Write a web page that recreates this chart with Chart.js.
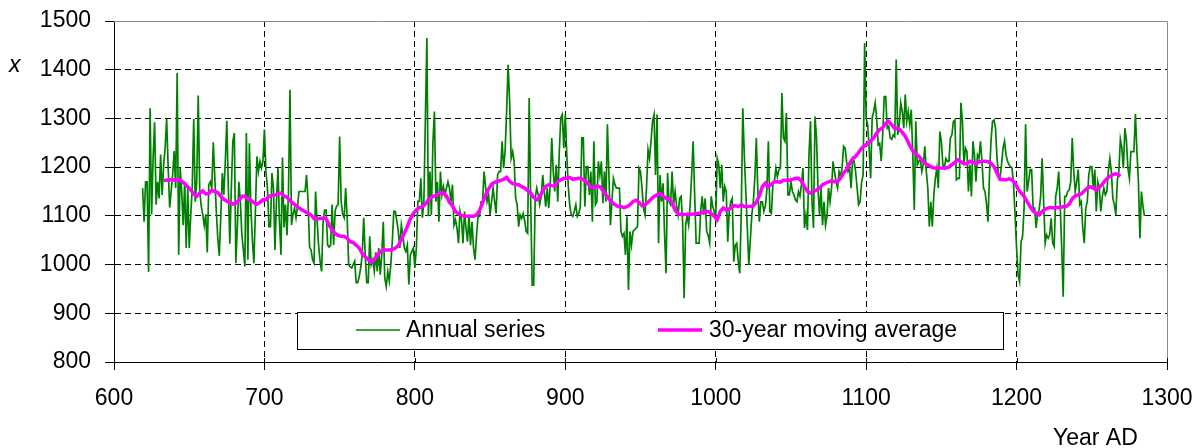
<!DOCTYPE html>
<html>
<head>
<meta charset="utf-8">
<title>Annual series and 30-year moving average</title>
<script src="https://cdn.jsdelivr.net/npm/chart.js@4.4.1/dist/chart.umd.min.js"></script>
<style>
  html, body { margin: 0; padding: 0; background: #fff; }
  #wrap { width: 1195px; height: 448px; position: relative; }
</style>
</head>
<body>
<div id="wrap"><canvas id="myChart"></canvas></div>
<script>
// one value per year, starting at firstYear
const firstYear = 619;
const annual = [
    // 619-709
    1157,1088,1170,1170,985,1321,1103,1220,1292,1123,
    1170,1136,1226,1143,1205,1239,1299,1200,1117,1150,
    1185,1233,1157,1393,1020,1198,1150,1081,1170,1034,
    1157,1034,1100,1157,1299,1129,1170,1347,1150,1120,
    1103,1080,1103,1025,1164,1170,1157,1251,1180,1110,
    1054,1018,1100,1188,1143,1212,1295,1160,1043,1157,
    1253,1270,1003,1076,1170,1129,1061,1030,996,1270,
    1010,1249,1116,1050,1003,1110,1222,1191,1212,1198,
    1212,1277,1191,1157,1078,1078,1188,1157,1030,1129,
    1198,
    // 710-808
    1088,1020,1220,1076,1123,1060,1150,1359,1081,1103,
    1116,1096,1120,1150,1150,1150,1150,1150,1184,1130,
    1036,1030,1010,1003,1150,1090,1040,1007,986,1088,
    1112,1112,1040,1036,1040,1123,1040,1110,1120,1123,
    1263,1130,1103,1096,1157,1096,1000,995,993,1000,
    1007,963,963,975,993,1020,1096,1020,963,963,
    1058,1000,1010,986,1025,986,1034,979,1020,1088,
    972,955,986,966,1000,1047,1109,1109,1090,1068,
    1034,1081,1061,1034,1027,1040,959,1020,1027,1034,
    993,1034,1130,1130,1177,1096,1130,1300,1465,
    // 809-908
    1099,1191,1102,1250,1314,1129,1170,1088,1191,1143,
    1160,1143,1157,1170,1157,1129,1164,1081,1092,1075,
    1044,1109,1092,1044,1109,1075,1047,1102,1040,1088,
    1034,
    1010,1060,1099,1099,1129,1129,1191,1160,1129,1143,
    1102,1129,1157,1130,1105,1184,1191,1191,1253,1198,
    1232,1314,1410,1335,1218,1232,1212,1136,1123,1078,
    1102,1095,1105,1090,1068,1064,
    1342,1129,958,958,1136,1157,1143,1123,1140,1184,
    1150,1119,1157,1116,1164,1260,1191,1150,1205,1129,
    1230,1301,1308,1239,1308,1226,1160,1120,1102,1099,
    1110,1123,1099,
    // 909-1009
    1105,
    1119,1260,1260,1119,1201,1201,1143,1191,1088,1253,
    1123,1129,1212,1184,1212,1126,1191,1129,1288,
    1184,1081,1129,1177,1164,1157,1157,1157,1068,1058,1064,1020,1099,948,
    1068,1040,1068,1071,1075,1078,1198,
    1191,1157,1116,1102,1157,1236,1218,1253,1294,1308,1184,1308,
    1044,1184,1129,1167,1061,982,
    1188,1129,1123,1191,1123,1150,1120,1102,1136,1140,1088,931,
    1081,1100,1081,1123,1184,1253,
    1143,1044,1044,1044,1109,1140,1102,1136,1068,1060,1044,1140,1120,1109,1095,1218,
    1205,1157,1205,1129,1160,1150,1047,1109,
    // 1010-1099
    1129,1136,1006,1040,1044,1006,982,1109,1321,
    1225,1150,1075,999,1050,1102,1129,1177,1260,
    1150,1088,1129,1129,1109,1120,1153,1253,
    1109,1105,1164,1170,1198,1180,1195,1198,1352,
    1260,1253,1311,
    1143,1143,1170,1150,1143,1133,1129,1150,1140,1164,1198,1075,1102,1071,1225,1294,
    1129,1075,1304,
    1260,1157,1102,1157,1081,1129,1081,1100,1157,1129,1157,1212,1190,1170,1157,1191,1181,1198,1243,
    1239,1212,1191,1198,1157,1218,1212,1191,1157,1123,1129,1170,1184,1455,
    // 1100-1209
    1301,1287,1239,1177,1301,1314,1332,1300,1246,
    1249,1212,1266,1345,1345,
    1280,1284,1260,1257,1266,1262,1421,
    1266,1287,1332,1314,1280,1349,
    1294,1314,1287,1318,1225,1112,
    1294,1205,1212,1218,1191,1205,1243,1191,1157,1078,
    1129,1078,1143,1177,1198,1157,1273,
    1253,1205,1198,1218,1212,1212,1260,1266,1294,1297,
    1174,1177,1177,1332,
    1294,1205,1239,1232,1150,1205,1140,1253,1225,1170,1225,1218,1253,1212,1157,1150,1126,1088,
    1184,1253,1294,1297,
    1280,1218,1184,1177,1205,1239,1253,1225,1212,1205,1201,1198,1164,1102,1034,979,965,
    1047,1058,1116,1288,1150,1170,1195,
    // 1210-1285
    1195,1116,1116,1075,1105,1112,1140,1218,1129,1044,
    1061,1054,1061,1095,1044,1037,1140,1157,1191,1123,
    1034,934,
    1140,1140,1150,1153,1170,1260,
    1191,1150,1170,1195,1123,1129,1075,1044,1116,1129,
    1184,1201,1201,1157,1195,1109,1170,1157,1109,1140,
    1157,1143,1150,1191,1218,
    1191,1136,1123,1102,1174,1191,1257,
    1239,1198,1280,1256,1198,1177,1232,1232,1232,1309,1232,1170,1054,1150,1120,1100
];

// 30-year moving average, every second year from maFirstYear
const maFirstYear = 633;
const maStep = 2;
const movingAverage = [
    // 633-709
    1173,1173,1174,1174,1173,1175,1171,1166,1160,1153,
    1145,1140,1147,1151,1145,1146,1153,1150,1148,1140,
    1134,1130,1127,1124,1126,1132,1140,1140,1135,1132,
    1127,1124,1128,1133,1133,1140,1142,1143,1145,
    // 711-809
    1147,1141,1138,1131,1126,1121,1116,1112,1109,1105,
    1102,1094,1094,1095,1095,1094,1081,1071,1064,1060,
    1058,1058,1054,1047,1045,1040,1034,1023,1016,1010,
    1005,1010,1019,1027,1030,1030,1030,1031,1034,1039,
    1051,1064,1078,1094,1105,1112,1117,1119,1124,1133,
    // 811-909
    1138,1141,1143,1148,1147,1141,1128,1121,1109,1104,
    1101,1099,1099,1099,1099,1102,1111,1126,1143,1155,
    1165,1169,1171,1173,1175,1179,1171,1166,1165,1164,
    1160,1157,1152,1147,1138,1133,1138,1152,1160,1164,
    1162,1161,1171,1174,1177,1177,1179,1175,1176,1177,
    // 911-1009
    1176,1172,1167,1158,1158,1161,1160,1152,1143,1135,
    1128,1123,1119,1119,1117,1119,1123,1129,1132,1128,
    1121,1123,1128,1134,1140,1143,1146,1140,1136,1135,
    1127,1112,1104,1103,1103,1103,1103,1104,1105,1105,
    1107,1109,1109,1105,1099,1092,1109,1116,1112,1114,
    // 1011-1109
    1119,1121,1119,1123,1119,1119,1119,1121,1128,1141,
    1160,1167,1160,1165,1170,1170,1169,1173,1173,1173,
    1175,1177,1177,1171,1160,1150,1147,1150,1153,1157,
    1164,1167,1170,1172,1170,1170,1177,1188,1195,1207,
    1217,1222,1230,1239,1244,1249,1254,1260,1270,1277,
    // 1111-1209
    1281,1290,1294,1287,1279,1280,1275,1268,1258,1244,
    1234,1227,1223,1215,1208,1205,1201,1198,1198,1198,
    1198,1198,1200,1205,1210,1215,1211,1207,1207,1212,
    1210,1207,1211,1212,1212,1211,1208,1201,1188,1175,
    1174,1174,1176,1174,1167,1155,1147,1140,1129,1119,
    // 1211-1269
    1110,1105,1102,1109,1114,1116,1117,1116,1117,1117,
    1119,1119,1124,1135,1141,1143,1145,1151,1157,1160,
    1157,1153,1158,1165,1173,1179,1183,1186,1186,1181
];

const xTicks = [600, 700, 800, 900, 1000, 1100, 1200, 1300];
const yTicks = [800, 900, 1000, 1100, 1200, 1300, 1400, 1500];
const seriesNames = ['Annual series', '30-year moving average'];
const xTitle = 'Year AD';
const yTitle = 'x';

const annualPoints = annual.map((v, i) => ({ x: firstYear + i, y: v }));
const maPoints = movingAverage.map((v, i) => ({ x: maFirstYear + i * maStep, y: v }));

const FONT = "'Liberation Sans', Arial, sans-serif";
Chart.defaults.font.family = FONT;
Chart.defaults.font.size = 23;
Chart.defaults.color = '#000';

// no dashed grid line on the outer edges, the frame is drawn there
const innerOnly = (lo, hi) => c =>
    (c.tick && (c.tick.value === lo || c.tick.value === hi)) ? 'rgba(0,0,0,0)' : '#000';

// grey top/right frame of the plot area, and the short tick stubs above the x axis
const plotFrame = {
    id: 'plotFrame',
    beforeDatasetsDraw(chart) {
        const { ctx, chartArea: a } = chart;
        const xs = chart.scales.x;
        ctx.save();
        ctx.strokeStyle = '#8a8a8a';
        ctx.lineWidth = 1;
        ctx.beginPath();
        ctx.moveTo(a.left, a.top + 0.5);
        ctx.lineTo(a.right + 0.5, a.top + 0.5);
        ctx.lineTo(a.right + 0.5, a.bottom);
        ctx.stroke();
        ctx.strokeStyle = '#000';
        ctx.beginPath();
        xTicks.forEach(v => {
            const px = Math.round(xs.getPixelForValue(v)) + 0.5;
            ctx.moveTo(px, a.bottom - 4);
            ctx.lineTo(px, a.bottom);
        });
        ctx.stroke();
        ctx.restore();
    }
};

// boxed legend sitting inside the plot, plus the two axis captions
const boxLegend = {
    id: 'boxLegend',
    afterDatasetsDraw(chart) {
        const { ctx } = chart;
        const box = { x: 297, y: 312, w: 706, h: 37 };
        const entries = [
            { ds: chart.data.datasets[0], lineX: 356, textX: 406 },
            { ds: chart.data.datasets[1], lineX: 658, textX: 709 }
        ];
        ctx.save();
        ctx.fillStyle = '#fff';
        ctx.fillRect(box.x, box.y, box.w, box.h);
        ctx.strokeStyle = '#000';
        ctx.lineWidth = 1;
        ctx.strokeRect(box.x + 0.5, box.y + 0.5, box.w, box.h);
        ctx.font = '23px ' + FONT;
        ctx.textBaseline = 'alphabetic';
        ctx.fillStyle = '#000';
        entries.forEach(e => {
            ctx.strokeStyle = e.ds.borderColor;
            ctx.lineWidth = e.ds.borderWidth;
            ctx.beginPath();
            ctx.moveTo(e.lineX, 330);
            ctx.lineTo(e.lineX + 44, 330);
            ctx.stroke();
            ctx.fillText(e.ds.label, e.textX, 337);
        });
        ctx.font = 'italic 23px ' + FONT;
        ctx.fillText(yTitle, 9, 72);
        ctx.font = '23px ' + FONT;
        ctx.fillText(xTitle, 1053, 445);
        ctx.restore();
    }
};

const ctx = document.getElementById('myChart');
const myChart = new Chart(ctx, {
    type: 'line',
    data: {
        datasets: [{
            label: seriesNames[0],
            data: annualPoints,
            borderColor: '#008000',
            borderWidth: 1.7,
            pointRadius: 0,
            tension: 0,
            fill: false,
            order: 1
        },
        {
            label: seriesNames[1],
            data: maPoints,
            borderColor: '#ff00ff',
            borderWidth: 3.5,
            pointRadius: 0,
            tension: 0,
            fill: false,
            order: 0
        }]
    },
    options: {
        responsive: true,
        maintainAspectRatio: false,
        animation: false,
        layout: { padding: { top: 21, right: 28, left: 0, bottom: 0 } },
        plugins: {
            legend: { display: false },
            tooltip: { enabled: false }
        },
        scales: {
            x: {
                type: 'linear',
                min: 600,
                max: 1300,
                afterBuildTicks: s => { s.ticks = xTicks.map(v => ({ value: v })); },
                afterFit: s => { s.height = 86; s.paddingLeft = 0; s.paddingRight = 0; },
                grid: { color: innerOnly(600, 1300), lineWidth: 1, tickLength: 8, tickColor: '#000' },
                border: { display: true, color: '#000', width: 1, dash: [6, 4] },
                ticks: { padding: 15, maxRotation: 0, autoSkip: false, callback: v => String(v) }
            },
            y: {
                min: 800,
                max: 1500,
                afterBuildTicks: s => { s.ticks = yTicks.map(v => ({ value: v })); },
                afterFit: s => { s.width = 114; s.paddingTop = 0; s.paddingBottom = 0; },
                grid: { color: innerOnly(800, 1500), lineWidth: 1, tickLength: 9, tickColor: '#000' },
                border: { display: true, color: '#000', width: 1, dash: [6, 4] },
                ticks: { padding: 14, autoSkip: false, callback: v => String(v) }
            }
        }
    },
    plugins: [plotFrame, boxLegend]
});
</script>
</body>
</html>
